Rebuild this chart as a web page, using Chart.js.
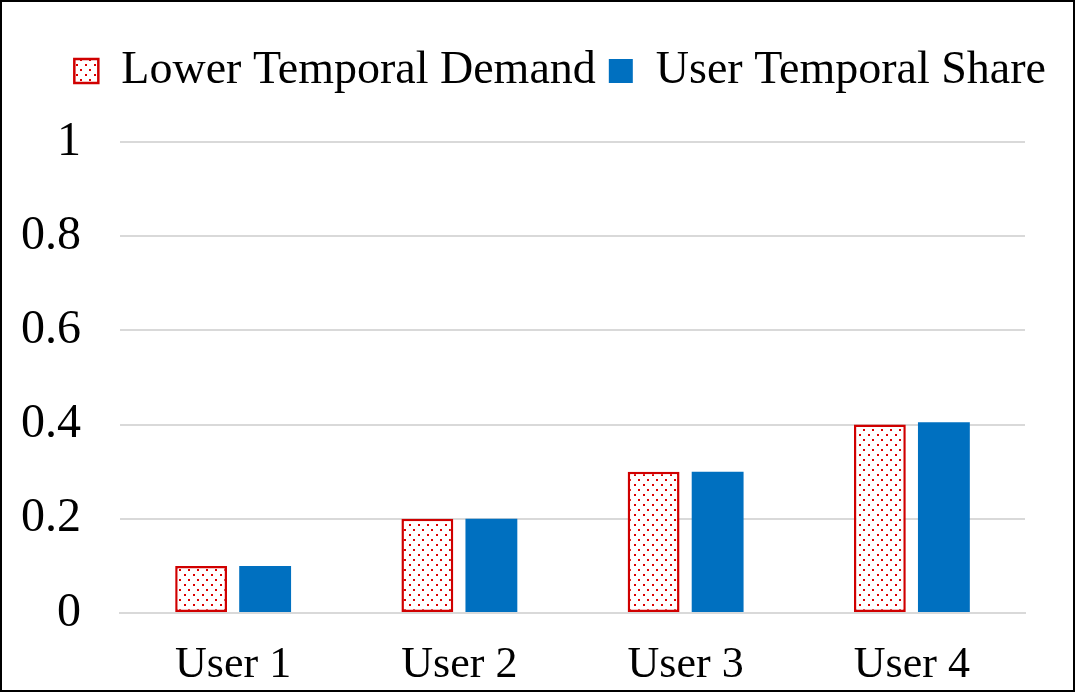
<!DOCTYPE html>
<html>
<head>
<meta charset="utf-8">
<script src="https://cdn.jsdelivr.net/npm/chart.js@4"></script>
<style>
    html, body { margin: 0; padding: 0; background: #fff; }
    #frame {
        width: 1075px;
        height: 692px;
        box-sizing: border-box;
        border: 2px solid #000;
        position: relative;
    }
    #chart { display: block; }
</style>
</head>
<body>
<div id="frame">
    <canvas id="chart" width="1071" height="688"></canvas>
</div>
<script>
// Chart data
const users = ['User 1', 'User 2', 'User 3', 'User 4'];
const lowerDemand = [0.1, 0.2, 0.3, 0.4];
const userShare = [0.1, 0.2, 0.3, 0.405];
const yTicks = [0, 0.2, 0.4, 0.6, 0.8, 1];

const RED = '#d00000';
const BLUE = '#0070c0';
const FONT = "'Liberation Serif', 'Times New Roman', serif";

// Dotted fill like the office "dotted" pattern
function makeDotPattern() {
    const c = document.createElement('canvas');
    c.width = 9;
    c.height = 10;
    const g = c.getContext('2d');
    g.fillStyle = '#fff';
    g.fillRect(0, 0, 9, 10);
    g.fillStyle = '#dd0000';
    g.fillRect(2, 2, 2, 2);
    g.fillRect(6, 7, 2, 2);
    return g.createPattern(c, 'repeat');
}

// Add space under the legend so the plot sits where it should
const legendSpacer = {
    id: 'legendSpacer',
    beforeInit(chart) {
        const origFit = chart.legend.fit;
        chart.legend.fit = function() {
            origFit.bind(chart.legend)();
            this.height += 38;
        };
    }
};

function initChart() {
    const ctx = document.getElementById('chart').getContext('2d');
    window.barChart = new Chart(ctx, {
        type: 'bar',
        data: {
            labels: users,
            datasets: [{
                label: 'Lower Temporal Demand',
                data: lowerDemand,
                backgroundColor: makeDotPattern(),
                borderColor: RED,
                borderWidth: 2.5,
                borderSkipped: false
            }, {
                label: 'User Temporal Share',
                data: userShare,
                backgroundColor: BLUE,
                borderColor: BLUE,
                borderWidth: 0
            }]
        },
        options: {
            responsive: false,
            animation: false,
            categoryPercentage: 0.566,
            barPercentage: 0.81,
            layout: { padding: { left: 0, right: 14, top: 33, bottom: 0 } },
            plugins: {
                tooltip: { enabled: false },
                legend: {
                    position: 'top',
                    align: 'end',
                    labels: {
                        color: '#000',
                        font: { family: FONT, size: 46 },
                        boxWidth: 24,
                        boxHeight: 24,
                        padding: 13
                    }
                }
            },
            scales: {
                x: {
                    grid: { display: false },
                    border: { display: true, color: '#d9d9d9', width: 2 },
                    afterFit: scale => { scale.height = 77; },
                    ticks: {
                        color: '#000',
                        font: { family: FONT, size: 44 },
                        padding: 18
                    }
                },
                y: {
                    min: 0,
                    max: 1,
                    afterBuildTicks: scale => {
                        scale.ticks = yTicks.map(v => ({ value: v }));
                    },
                    afterFit: scale => { scale.width = 118; },
                    grid: { color: '#d9d9d9', lineWidth: 2, drawTicks: false },
                    border: { display: false },
                    ticks: {
                        color: '#000',
                        font: { family: FONT, size: 48 },
                        padding: 39,
                        callback: v => String(v)
                    }
                },
                // empty axis on the right, keeps the plot narrower than the legend
                spacer: {
                    type: 'linear',
                    position: 'right',
                    display: true,
                    afterFit: scale => { scale.width = 34; },
                    grid: { display: false, drawTicks: false },
                    border: { display: false },
                    ticks: { display: false }
                }
            }
        },
        plugins: [legendSpacer]
    });
}

initChart();
</script>
</body>
</html>
